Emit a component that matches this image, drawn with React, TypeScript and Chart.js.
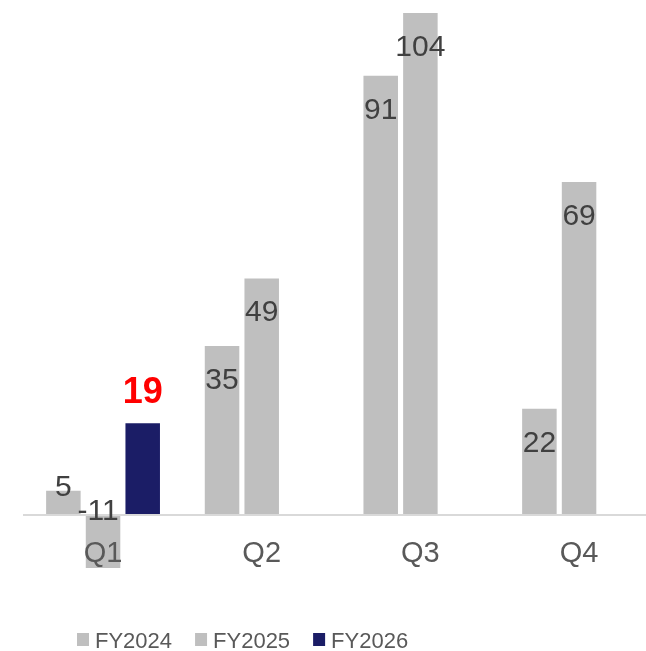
import React, { useEffect, useRef } from "react";
import { Chart, registerables } from "chart.js";

Chart.register(...registerables);

const categories = ["Q1", "Q2", "Q3", "Q4"];
const seriesNames = ["FY2024", "FY2025", "FY2026"];
const fy2024 = [5, 35, 91, 22];
const fy2025 = [-11, 49, 104, 69];
const fy2026 = [19, null, null, null];
const seriesColors = ["#bfbfbf", "#bfbfbf", "#1b1d66"];
const highlightIndex = 2;

const FONT = "'Liberation Sans', Arial, sans-serif";

const valueLabels = {
  id: "valueLabels",
  afterDraw(chart: any) {
    const ctx = chart.ctx;
    ctx.save();
    chart.data.datasets.forEach((ds: any, di: number) => {
      const meta = chart.getDatasetMeta(di);
      meta.data.forEach((el: any, i: number) => {
        const v = ds.data[i];
        if (v === null || v === undefined) return;
        const { x, y, base } = el.getProps(["x", "y", "base"], true);
        const txt = String(v);
        ctx.textAlign = "center";
        ctx.textBaseline = "alphabetic";
        if (di === highlightIndex) {
          ctx.font = `bold 36px ${FONT}`;
          ctx.fillStyle = "#ff0000";
          ctx.fillText(txt, x, y - 20);
          return;
        }
        ctx.font = `30px ${FONT}`;
        ctx.fillStyle = "#404040";
        if (v < 0) {
          const minusW = ctx.measureText("-").width;
          ctx.fillText(txt, x - minusW / 2, base + 5);
        } else if (base - y > 60) {
          ctx.fillText(txt, x, y + 43);
        } else {
          ctx.fillText(txt, x, y + 5);
        }
      });
    });
    ctx.restore();
  },
};

// widen the category axis past the right canvas edge, as in the reference crop
const widenX = {
  id: "widenX",
  afterLayout(chart: any) {
    const xs = chart.scales.x;
    xs.right = xs.left + 634.7;
    xs.width = xs.right - xs.left;
    xs.configure();
  },
};

const bottomLegend = {
  id: "bottomLegend",
  afterDraw(chart: any) {
    const ctx = chart.ctx;
    ctx.save();
    ctx.font = `22px ${FONT}`;
    ctx.textAlign = "left";
    ctx.textBaseline = "alphabetic";
    let x = 77;
    chart.data.datasets.forEach((ds: any) => {
      ctx.fillStyle = ds.backgroundColor;
      ctx.fillRect(x, 633, 12, 13);
      ctx.fillStyle = "#595959";
      const tx = x + 18;
      ctx.fillText(ds.label, tx, 648);
      x = tx + ctx.measureText(ds.label).width + 23;
    });
    ctx.restore();
  },
};

export default function App() {
  const ref = useRef<HTMLCanvasElement | null>(null);
  useEffect(() => {
    document.body.style.margin = "0";
    document.body.style.overflow = "hidden";
    const seriesData = [fy2024, fy2025, fy2026];
    const chart = new Chart(ref.current as HTMLCanvasElement, {
      type: "bar",
      data: {
        labels: categories,
        datasets: seriesNames.map((name, i) => ({
          label: name,
          data: seriesData[i],
          backgroundColor: seriesColors[i],
          borderWidth: 0,
          categoryPercentage: 0.75,
          barPercentage: 0.87,
          clip: false as any,
        })),
      },
      options: {
        responsive: false,
        animation: false,
        layout: { padding: { left: 23.7, right: 0, top: 13, bottom: 39.5 } },
        plugins: { legend: { display: false }, tooltip: { enabled: false } },
        scales: {
          x: {
            position: { y: 0 } as any,
            grid: { display: false },
            border: { display: true, color: "#d9d9d9", width: 2, z: 1 },
            ticks: {
              color: "#595959",
              font: { family: FONT, size: 29 },
              padding: 14,
              maxRotation: 0,
              z: 1,
            },
            afterFit: (scale: any) => {
              scale.height = 0;
            },
          },
          y: {
            display: false,
            min: -20,
            max: 104,
          },
        },
      },
      plugins: [widenX, valueLabels, bottomLegend],
    });
    return () => chart.destroy();
  }, []);
  return (
    <div style={{ width: 646, height: 651 }}>
      <canvas ref={ref} width={646} height={651} style={{ display: "block" }} />
    </div>
  );
}
